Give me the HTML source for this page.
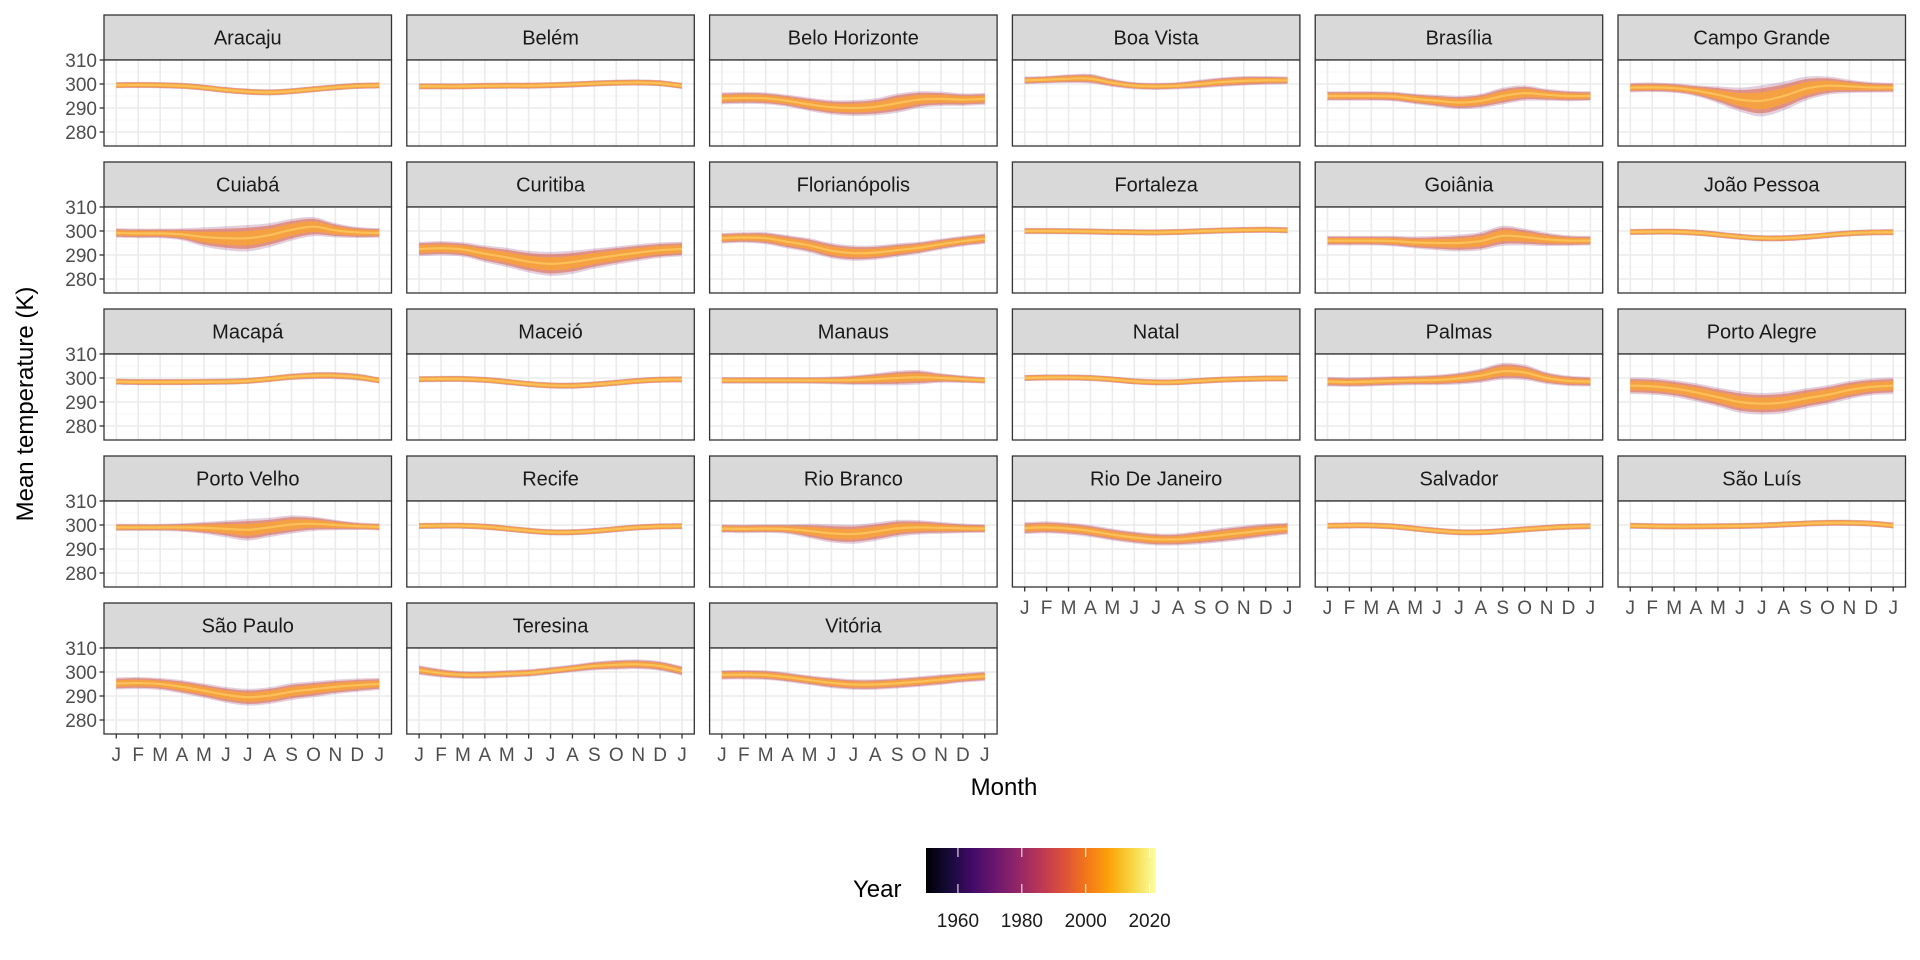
<!DOCTYPE html>
<html><head><meta charset="utf-8"><style>
html,body{margin:0;padding:0;background:#fff;}
svg{display:block;font-family:"Liberation Sans","DejaVu Sans",sans-serif;}
</style></head><body>
<svg id="chart" width="1920" height="960" viewBox="0 0 1920 960">
<defs>
<linearGradient id="inferno" x1="0" x2="1" y1="0" y2="0">
<stop offset="0" stop-color="#000004"/><stop offset="0.1" stop-color="#160b39"/><stop offset="0.2" stop-color="#420a68"/><stop offset="0.3" stop-color="#6a176e"/><stop offset="0.4" stop-color="#932667"/><stop offset="0.5" stop-color="#bc3754"/><stop offset="0.6" stop-color="#dd513a"/><stop offset="0.7" stop-color="#f37819"/><stop offset="0.8" stop-color="#fca50a"/><stop offset="0.9" stop-color="#f6d746"/><stop offset="1" stop-color="#fcffa4"/>
</linearGradient>
</defs>
</svg>
<script>
const cities = ["Aracaju","Belém","Belo Horizonte","Boa Vista","Brasília","Campo Grande","Cuiabá","Curitiba","Florianópolis","Fortaleza","Goiânia","João Pessoa","Macapá","Maceió","Manaus","Natal","Palmas","Porto Alegre","Porto Velho","Recife","Rio Branco","Rio De Janeiro","Salvador","São Luís","São Paulo","Teresina","Vitória"];
const monthLabels = ["J","F","M","A","M","J","J","A","S","O","N","D","J"];
const yTicks = [280,290,300,310];
const legendTicks = [1960,1980,2000,2020];
// monthly central temperature (K), Jan..Jan
const midVals = [
[299.5,299.6,299.5,299.2,298.5,297.5,296.8,296.5,297,297.8,298.6,299.2,299.4],
[299,299,299,299.2,299.3,299.3,299.5,299.8,300.2,300.5,300.6,300.3,299.2],
[294,294.2,294,293,291.5,290.3,290,290.5,292,293.5,293.8,293.5,293.8],
[301.5,301.8,302.2,302.2,300.5,299.3,299,299.3,300,300.8,301.3,301.5,301.5],
[295,295,295,294.8,293.8,293,292.3,293,295,296.2,295.5,295,295],
[298.5,298.6,298.3,297.2,295.5,293.5,293,295,298,299.3,299,298.6,298.5],
[299.2,299,299,298.6,297.5,297,297,298.3,300.5,301.8,300.3,299.4,299.2],
[292.5,292.8,292.3,290.5,289,287.2,286.3,287,288.5,289.8,291,292,292.5],
[297,297.3,297,295.5,294,291.8,290.8,291,292,293,294.5,295.8,296.8],
[300,300,299.9,299.8,299.6,299.5,299.4,299.6,299.9,300.2,300.4,300.5,300.3],
[296,296,296,295.8,295.2,295,295,295.8,298,297.5,296.5,296,296],
[299.6,299.7,299.7,299.3,298.5,297.6,297,297,297.5,298.3,299,299.4,299.5],
[298.5,298.3,298.3,298.3,298.4,298.5,298.8,299.6,300.5,301,301,300.4,299],
[299.5,299.6,299.6,299.2,298.4,297.5,296.9,296.8,297.3,298,298.8,299.3,299.4],
[299,299,299,299,299,299,299.1,299.5,300,300.3,300,299.5,299],
[300,300.2,300.2,300,299.4,298.6,298.2,298.3,298.8,299.3,299.6,299.8,299.8],
[298.5,298.3,298.5,298.8,299,299.2,299.8,301,302.8,302.3,300,298.8,298.5],
[296.8,296.5,295.6,294,292,290,289.3,289.8,291.5,293,295,296.3,296.8],
[299,299,299,299,298.8,298.4,298,299,300.2,300.5,300,299.5,299.2],
[299.6,299.7,299.7,299.3,298.5,297.6,297,297,297.5,298.3,299,299.4,299.5],
[298.5,298.4,298.5,298.3,297.5,296.5,296.2,297.2,298.6,299,298.8,298.6,298.5],
[298.7,299,298.5,297.5,296,294.8,294,294,294.8,295.8,296.8,297.8,298.5],
[299.7,299.8,299.8,299.4,298.5,297.6,297,297,297.5,298.2,298.8,299.3,299.5],
[299.7,299.5,299.4,299.4,299.5,299.6,299.8,300.2,300.6,300.9,300.9,300.6,299.8],
[295.2,295.4,295,293.8,292.2,290.5,289.5,290.2,291.8,292.8,293.8,294.5,295],
[300.8,299.5,298.8,298.8,299.2,299.6,300.5,301.5,302.5,303,303.2,302.5,300.5],
[298.8,298.9,298.7,297.8,296.6,295.5,294.8,294.8,295.3,296,296.8,297.6,298.2]
];
// half-width of spread across years (K), Jan..Jan
const spreadVals = [
[1.2,1.2,1.2,1.2,1.2,1.2,1.2,1.2,1.2,1.2,1.2,1.2,1.2],
[1.2,1.2,1.2,1.2,1.2,1.2,1.2,1.2,1.2,1.2,1.2,1.2,1.2],
[2.5,2.5,2.5,2.5,2.8,3,3.3,3.5,4,3.5,3,2.6,2.5],
[1.6,1.6,1.8,2,1.7,1.5,1.5,1.5,1.8,2,2,1.8,1.6],
[2,2,2,2,2.2,2.5,2.8,3,3.5,3.2,2.5,2.2,2],
[2,2,2,2.3,3.5,5,6.5,6,5,3.8,2.8,2.2,2],
[2,2,2,2.5,4,5,5.5,5,4.5,4,3,2.3,2],
[3,3,3,3.5,4,4.5,5,4.8,4.2,3.8,3.5,3.2,3],
[2.2,2.2,2.5,2.8,3,3.2,3.2,3,2.8,2.5,2.3,2.2,2.2],
[1,1,1,1,1,1,1,1,1,1,1,1,1],
[2,2,2,2.2,2.5,3,3.5,3.8,4.2,3.5,2.8,2.2,2],
[1.2,1.2,1.2,1.2,1.2,1.2,1.2,1.2,1.2,1.2,1.2,1.2,1.2],
[1.3,1.3,1.3,1.3,1.3,1.3,1.3,1.3,1.4,1.5,1.5,1.5,1.3],
[1.2,1.2,1.2,1.2,1.2,1.2,1.2,1.2,1.2,1.2,1.2,1.2,1.2],
[1.4,1.4,1.4,1.4,1.4,1.6,2,2.5,3,3,2,1.6,1.4],
[1.1,1.1,1.1,1.1,1.1,1.1,1.1,1.1,1.1,1.1,1.1,1.1,1.1],
[2,2,2,2,2,2.2,2.5,3,3.5,3.2,2.5,2.2,2],
[3.5,3.5,3.5,3.8,4,4.5,4.5,4.5,4.2,4,3.8,3.5,3.5],
[1.5,1.5,1.5,1.8,2.5,3.5,4.5,4,3.8,3,2.2,1.6,1.5],
[1.2,1.2,1.2,1.2,1.2,1.2,1.2,1.2,1.2,1.2,1.2,1.2,1.2],
[1.8,1.8,1.8,2,3,3.8,4,3.8,3.5,3,2.5,2,1.8],
[2.5,2.5,2.5,2.5,2.5,2.5,2.5,2.5,2.8,3,3,2.8,2.5],
[1.2,1.2,1.2,1.2,1.2,1.2,1.2,1.2,1.2,1.2,1.2,1.2,1.2],
[1.2,1.2,1.2,1.2,1.2,1.2,1.2,1.2,1.2,1.2,1.2,1.2,1.2],
[2.5,2.5,2.5,2.8,3,3.3,3.5,3.5,3.5,3.3,3,2.8,2.5],
[2,1.8,1.6,1.6,1.6,1.6,1.6,1.6,1.8,2,2,2,2],
[2,2,2,2,2,2.2,2.2,2.2,2.2,2.2,2.2,2,2]
];

const NS = "http://www.w3.org/2000/svg";
const svg = document.getElementById("chart");
function mk(tag, attrs, parent){const e=document.createElementNS(NS,tag);for(const k in attrs)e.setAttribute(k,attrs[k]);(parent||svg).appendChild(e);return e;}

const COL0=104, COLSTEP=302.8, PW=287.5, ROW_STRIP0=15, ROWSTEP=147, STRIPH=45, PH=86;
const YMAX=310, YPX=2.4;
function panelLeft(c){return COL0+c*COLSTEP;}
function panelTop(r){return ROW_STRIP0+STRIPH+r*ROWSTEP;}
function xScale(c,m){return panelLeft(c)+12.3+m*(PW-24.6)/12;}
function yScale(r,v){return panelTop(r)+(YMAX-v)*YPX;}

function smoothPath(pts){
  let d="M"+pts[0][0].toFixed(2)+","+pts[0][1].toFixed(2);
  for(let i=0;i<pts.length-1;i++){
    const p0=pts[Math.max(0,i-1)],p1=pts[i],p2=pts[i+1],p3=pts[Math.min(pts.length-1,i+2)];
    const c1=[p1[0]+(p2[0]-p0[0])/6,p1[1]+(p2[1]-p0[1])/6];
    const c2=[p2[0]-(p3[0]-p1[0])/6,p2[1]-(p3[1]-p1[1])/6];
    d+=" C"+c1[0].toFixed(2)+","+c1[1].toFixed(2)+" "+c2[0].toFixed(2)+","+c2[1].toFixed(2)+" "+p2[0].toFixed(2)+","+p2[1].toFixed(2);
  }
  return d;
}
function bandPath(r,c,mid,sp,f,minH){
  const up=mid.map((v,i)=>[xScale(c,i),yScale(r,v+Math.max(minH,sp[i]*f))]);
  const lo=mid.map((v,i)=>[xScale(c,i),yScale(r,v-Math.max(minH,sp[i]*f))]).reverse();
  let d=smoothPath(up);
  d+=" L"+smoothPath(lo).slice(1)+" Z";
  return d;
}

cities.forEach((name,idx)=>{
  const r=Math.floor(idx/6), c=idx%6;
  const L=panelLeft(c), T=panelTop(r);
  const g=mk("g",{});
  
  
  const strip=mk("rect",{x:L,y:T-STRIPH,width:PW,height:STRIPH,fill:"#d9d9d9",stroke:"#333",'stroke-width':1.3},g);
  
  
  const st=mk("text",{x:L+PW/2,y:T-STRIPH/2+7,'text-anchor':'middle','font-size':20,fill:'#1a1a1a'},g);
  st.textContent=name;
  
  
  mk("rect",{x:L,y:T,width:PW,height:PH,fill:"#fff"},g);
  for(let v=275;v<=305;v+=10){const y=yScale(r,v);mk("line",{x1:L,x2:L+PW,y1:y,y2:y,stroke:"#f4f4f4",'stroke-width':0.7},g);}
  yTicks.forEach(v=>{const y=yScale(r,v);if(y>T+1)mk("line",{x1:L,x2:L+PW,y1:y,y2:y,stroke:"#ebebeb",'stroke-width':1.6},g);});
  monthLabels.forEach((m,i)=>{const x=xScale(c,i);mk("line",{x1:x,x2:x,y1:T,y2:T+PH,stroke:"#ebebeb",'stroke-width':1.6},g);});
  const cid="clip"+idx;
  const cp=mk("clipPath",{id:cid},g);mk("rect",{x:L,y:T,width:PW,height:PH},cp);
  const dg=mk("g",{'clip-path':"url(#"+cid+")"},g);
  const mid=midVals[idx], sp=spreadVals[idx];
  const b1=mk("path",{d:bandPath(r,c,mid,sp,1,1.3),fill:"rgba(140,60,120,0.24)"},dg);
  
  
  const b2=mk("path",{d:bandPath(r,c,mid,sp,0.8,1.15),fill:"rgba(222,95,65,0.55)"},dg);
  
  
  const b3=mk("path",{d:bandPath(r,c,mid,sp,0.55,0.9),fill:"rgba(246,162,60,0.92)"},dg);
  
  
  const ln=mk("path",{d:smoothPath(mid.map((v,i)=>[xScale(c,i),yScale(r,v)])),fill:"none",stroke:"#f9c45a",'stroke-width':2.2,'stroke-opacity':0.9},dg);
  
  
  const border=mk("rect",{x:L,y:T,width:PW,height:PH,fill:"none",stroke:"#333",'stroke-width':1.3},g);
  
  
  if(c===0){
    yTicks.forEach(v=>{const y=yScale(r,v);
      mk("line",{x1:L-4.5,x2:L,y1:y,y2:y,stroke:"#333",'stroke-width':1.3},g);
      const t=mk("text",{x:L-7,y:y+7,'text-anchor':'end','font-size':19,fill:'#4d4d4d'},g);
      t.textContent=v;
      
      
    });
  }
  const bottomFacet = idx+6>=cities.length;
  if(bottomFacet){
    monthLabels.forEach((m,i)=>{const x=xScale(c,i);
      mk("line",{x1:x,x2:x,y1:T+PH,y2:T+PH+4.5,stroke:"#333",'stroke-width':1.3},g);
      const t=mk("text",{x:x,y:T+PH+27,'text-anchor':'middle','font-size':19,fill:'#4d4d4d'},g);
      t.textContent=m;
      
      
    });
  }
});

const xt=mk("text",{x:1004,y:795,'text-anchor':'middle','font-size':24,fill:'#000'});
xt.textContent="Month";


const yt=mk("text",{x:0,y:0,'text-anchor':'middle','font-size':24,fill:'#000',transform:'translate(33,404) rotate(-90)'});
yt.textContent="Mean temperature (K)";



const LX0=926, LX1=1156, Y0=1950, Y1=2022;
function lx(y){return LX0+(y-Y0)*(LX1-LX0)/(Y1-Y0);}
const lg=mk("g",{});


const ltitle=mk("text",{x:853,y:897,'font-size':24,fill:'#000'},lg);
ltitle.textContent="Year";


const bar=mk("rect",{x:LX0,y:848,width:LX1-LX0,height:45,fill:"url(#inferno)"},lg);


legendTicks.forEach(v=>{const x=lx(v);
  mk("line",{x1:x,x2:x,y1:848,y2:857,stroke:"#fff",'stroke-width':1},lg);
  mk("line",{x1:x,x2:x,y1:884,y2:893,stroke:"#fff",'stroke-width':1},lg);
  const t=mk("text",{x:x,y:927,'text-anchor':'middle','font-size':19,fill:'#1a1a1a'},lg);
  t.textContent=v;
  
  
});
</script>
</body></html>
